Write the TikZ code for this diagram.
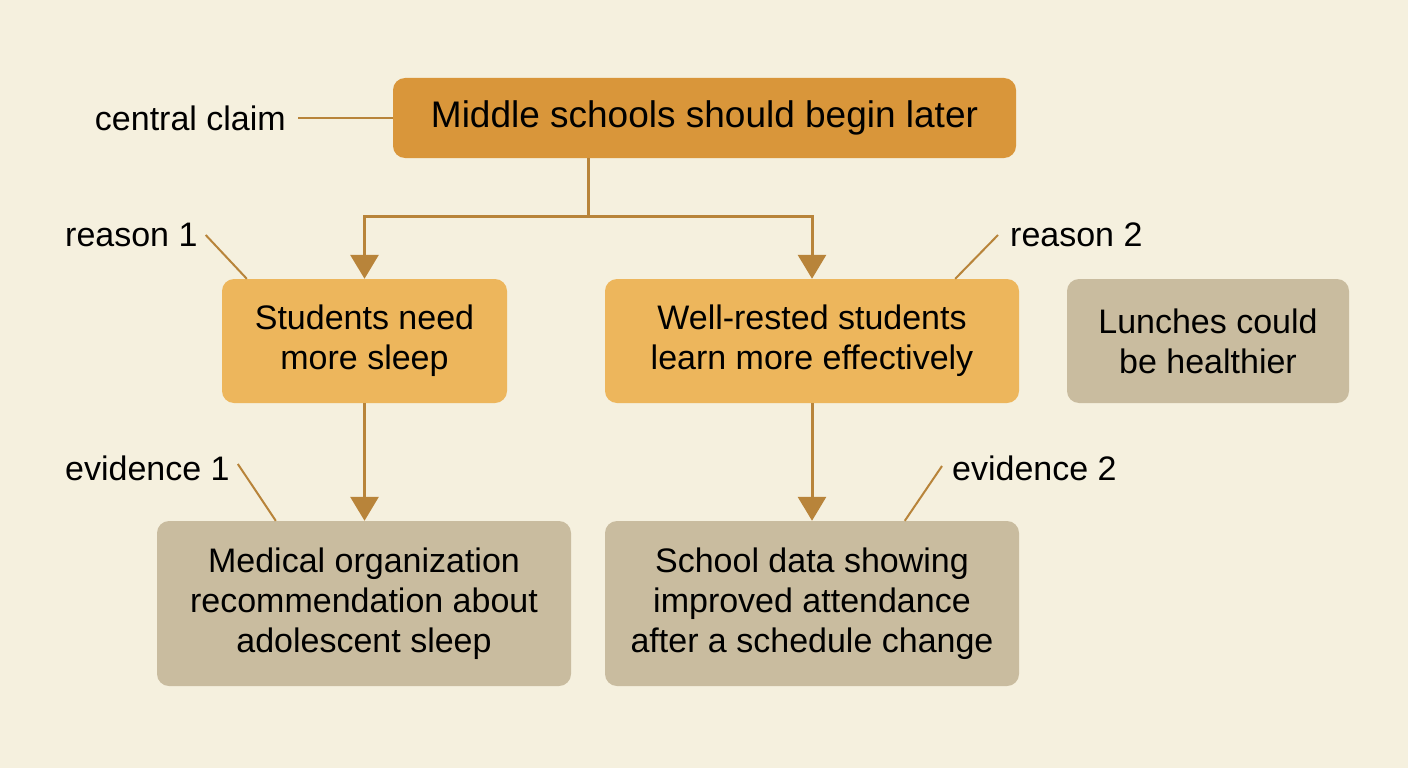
\documentclass[tikz,border=0pt]{standalone}
\usepackage{fontspec}
\setmainfont{Liberation Sans}
\usetikzlibrary{arrows.meta,calc}
\definecolor{bg}{HTML}{F5F0DE}
\definecolor{claimfill}{HTML}{D9963A}
\definecolor{reasonfill}{HTML}{EDB65C}
\definecolor{grayfill}{HTML}{C9BC9F}
\definecolor{linec}{HTML}{B8843A}
\definecolor{txt}{HTML}{000000}
\tikzset{
  box/.style={rectangle, rounded corners=12pt, draw=none, align=center, text=txt, inner sep=0pt},
  claimbox/.style={box, fill=claimfill, font=\fontsize{37}{44}\selectfont},
  reasonbox/.style={box, fill=reasonfill, font=\fontsize{34}{40}\selectfont},
  graybox/.style={box, fill=grayfill, font=\fontsize{34}{40}\selectfont},
  lab/.style={inner sep=0pt, text=txt, font=\fontsize{34}{40}\selectfont},
  conn/.style={draw=linec, line width=3pt, -{Triangle[width=28pt,length=24pt]}},
  plainconn/.style={draw=linec, line width=3pt},
  leader/.style={draw=linec, line width=2pt},
}
\begin{document}
\begin{tikzpicture}[x=1pt,y=-1pt]
\fill[bg] (0,0) rectangle (1408,768);
\useasboundingbox (0,0) rectangle (1408,768);

\node[claimbox, minimum width=623pt, minimum height=80pt] (claim) at (704.5,118) {Middle schools should begin later};
\node[reasonbox, minimum width=285pt, minimum height=124pt] (r1) at (364.5,341) {Students need\\more sleep};
\node[reasonbox, minimum width=414pt, minimum height=124pt] (r2) at (812,341) {Well-rested students\\learn more effectively};
\node[graybox, minimum width=282pt, minimum height=124pt] (lunch) at (1208,341) {Lunches could\\be healthier};
\node[graybox, minimum width=414pt, minimum height=165pt] (e1) at (364,603.5) {Medical organization\\recommendation about\\adolescent sleep};
\node[graybox, minimum width=414pt, minimum height=165pt] (e2) at (812,603.5) {School data showing\\improved attendance\\after a schedule change};

\coordinate (j) at (588,216);
\draw[plainconn] (claim.south -| j) -- (j);
\draw[conn] (j) -| (r1.north);
\draw[conn] (j) -| (r2.north);
\draw[conn] (r1.south) -- (r1.south |- e1.north);
\draw[conn] (r2.south) -- (e2.north);

\node[lab, anchor=east] (lc) at (286,118) {central claim};
\node[lab, anchor=west] (l1) at (65,235) {reason 1};
\node[lab, anchor=west] (l2) at (1010,235) {reason 2};
\node[lab, anchor=west] (le1) at (65,468) {evidence 1};
\node[lab, anchor=west] (le2) at (952,468) {evidence 2};

\coordinate (p1) at ($(r1.north west)+(25,0)$);
\coordinate (p2) at ($(r2.north east)+(-64,0)$);
\coordinate (pe1) at ($(e1.north west)+(119,0)$);
\coordinate (pe2) at ($(e2.north west)+(300,0)$);

\draw[leader] ([xshift=12pt]lc.east) -- (claim.west);
\draw[leader] ([xshift=8pt]l1.east) -- (p1);
\draw[leader] ([xshift=-12pt]l2.west) -- (p2);
\draw[leader] ([xshift=8pt,yshift=4pt]le1.east) -- (pe1);
\draw[leader] ([xshift=-10pt,yshift=2pt]le2.west) -- (pe2);
\end{tikzpicture}
\end{document}
